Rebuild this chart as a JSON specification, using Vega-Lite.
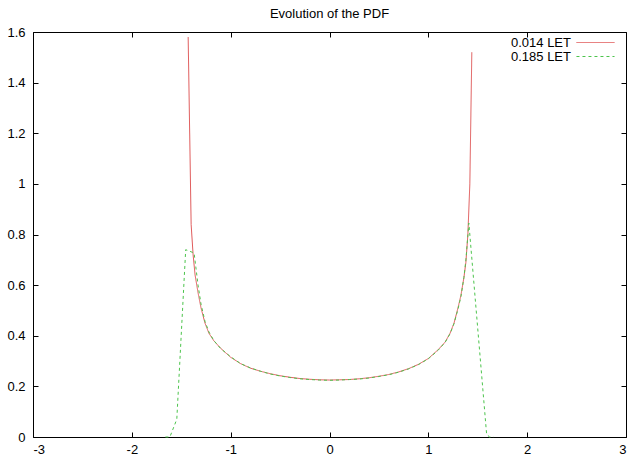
{
  "$schema": "https://vega.github.io/schema/vega-lite/v6.json",
  "width": 593,
  "height": 405,
  "autosize": {"type": "none"},
  "padding": {"left": 33, "top": 32, "right": 13, "bottom": 20},
  "background": "white",
  "title": {"text": "Evolution of the PDF", "font": "Liberation Sans", "fontSize": 13, "fontWeight": "normal", "color": "black", "offset": 5, "anchor": "middle"},
  "config": {
    "view": {"stroke": "black", "strokeWidth": 1},
    "axis": {"grid": false, "domain": false, "tickColor": "black", "tickWidth": 1, "tickSize": -5, "labelFont": "Liberation Sans", "labelFontSize": 13, "labelColor": "black", "title": null},
    "legend": {"labelFont": "Liberation Sans", "labelFontSize": 13, "labelColor": "black"}
  },
  "data": {"values": [
    {"series": "0.014 LET", "x": -1.43, "y": 1.58},
    {"series": "0.014 LET", "x": -1.40, "y": 0.84},
    {"series": "0.014 LET", "x": -1.38, "y": 0.72},
    {"series": "0.014 LET", "x": -1.36, "y": 0.64},
    {"series": "0.014 LET", "x": -1.33, "y": 0.57},
    {"series": "0.014 LET", "x": -1.30, "y": 0.51},
    {"series": "0.014 LET", "x": -1.26, "y": 0.45},
    {"series": "0.014 LET", "x": -1.22, "y": 0.41},
    {"series": "0.014 LET", "x": -1.17, "y": 0.38},
    {"series": "0.014 LET", "x": -1.10, "y": 0.35},
    {"series": "0.014 LET", "x": -1.00, "y": 0.315},
    {"series": "0.014 LET", "x": -0.90, "y": 0.29},
    {"series": "0.014 LET", "x": -0.80, "y": 0.272},
    {"series": "0.014 LET", "x": -0.70, "y": 0.26},
    {"series": "0.014 LET", "x": -0.60, "y": 0.25},
    {"series": "0.014 LET", "x": -0.50, "y": 0.242},
    {"series": "0.014 LET", "x": -0.40, "y": 0.236},
    {"series": "0.014 LET", "x": -0.30, "y": 0.231},
    {"series": "0.014 LET", "x": -0.20, "y": 0.228},
    {"series": "0.014 LET", "x": -0.10, "y": 0.226},
    {"series": "0.014 LET", "x": 0.00, "y": 0.225},
    {"series": "0.014 LET", "x": 0.10, "y": 0.226},
    {"series": "0.014 LET", "x": 0.20, "y": 0.227},
    {"series": "0.014 LET", "x": 0.30, "y": 0.230},
    {"series": "0.014 LET", "x": 0.40, "y": 0.234},
    {"series": "0.014 LET", "x": 0.50, "y": 0.240},
    {"series": "0.014 LET", "x": 0.60, "y": 0.247},
    {"series": "0.014 LET", "x": 0.70, "y": 0.257},
    {"series": "0.014 LET", "x": 0.80, "y": 0.270},
    {"series": "0.014 LET", "x": 0.90, "y": 0.287},
    {"series": "0.014 LET", "x": 1.00, "y": 0.31},
    {"series": "0.014 LET", "x": 1.10, "y": 0.345},
    {"series": "0.014 LET", "x": 1.17, "y": 0.375},
    {"series": "0.014 LET", "x": 1.22, "y": 0.41},
    {"series": "0.014 LET", "x": 1.26, "y": 0.45},
    {"series": "0.014 LET", "x": 1.30, "y": 0.51},
    {"series": "0.014 LET", "x": 1.33, "y": 0.56},
    {"series": "0.014 LET", "x": 1.36, "y": 0.63},
    {"series": "0.014 LET", "x": 1.38, "y": 0.69},
    {"series": "0.014 LET", "x": 1.40, "y": 0.80},
    {"series": "0.014 LET", "x": 1.42, "y": 1.0},
    {"series": "0.014 LET", "x": 1.44, "y": 1.52},
    {"series": "0.185 LET", "x": -1.66, "y": 0},
    {"series": "0.185 LET", "x": -1.615, "y": 0},
    {"series": "0.185 LET", "x": -1.545, "y": 0.07},
    {"series": "0.185 LET", "x": -1.455, "y": 0.74},
    {"series": "0.185 LET", "x": -1.37, "y": 0.727},
    {"series": "0.185 LET", "x": -1.33, "y": 0.60},
    {"series": "0.185 LET", "x": -1.30, "y": 0.525},
    {"series": "0.185 LET", "x": -1.26, "y": 0.457},
    {"series": "0.185 LET", "x": -1.22, "y": 0.415},
    {"series": "0.185 LET", "x": -1.17, "y": 0.381},
    {"series": "0.185 LET", "x": -1.10, "y": 0.349},
    {"series": "0.185 LET", "x": -1.00, "y": 0.317},
    {"series": "0.185 LET", "x": -0.90, "y": 0.29},
    {"series": "0.185 LET", "x": -0.80, "y": 0.273},
    {"series": "0.185 LET", "x": -0.70, "y": 0.26},
    {"series": "0.185 LET", "x": -0.60, "y": 0.249},
    {"series": "0.185 LET", "x": -0.50, "y": 0.241},
    {"series": "0.185 LET", "x": -0.40, "y": 0.235},
    {"series": "0.185 LET", "x": -0.30, "y": 0.23},
    {"series": "0.185 LET", "x": -0.20, "y": 0.227},
    {"series": "0.185 LET", "x": -0.10, "y": 0.225},
    {"series": "0.185 LET", "x": 0.00, "y": 0.224},
    {"series": "0.185 LET", "x": 0.10, "y": 0.225},
    {"series": "0.185 LET", "x": 0.20, "y": 0.227},
    {"series": "0.185 LET", "x": 0.30, "y": 0.229},
    {"series": "0.185 LET", "x": 0.40, "y": 0.233},
    {"series": "0.185 LET", "x": 0.50, "y": 0.239},
    {"series": "0.185 LET", "x": 0.60, "y": 0.246},
    {"series": "0.185 LET", "x": 0.70, "y": 0.256},
    {"series": "0.185 LET", "x": 0.80, "y": 0.269},
    {"series": "0.185 LET", "x": 0.90, "y": 0.286},
    {"series": "0.185 LET", "x": 1.00, "y": 0.309},
    {"series": "0.185 LET", "x": 1.10, "y": 0.343},
    {"series": "0.185 LET", "x": 1.17, "y": 0.374},
    {"series": "0.185 LET", "x": 1.22, "y": 0.408},
    {"series": "0.185 LET", "x": 1.26, "y": 0.448},
    {"series": "0.185 LET", "x": 1.30, "y": 0.505},
    {"series": "0.185 LET", "x": 1.33, "y": 0.555},
    {"series": "0.185 LET", "x": 1.36, "y": 0.63},
    {"series": "0.185 LET", "x": 1.38, "y": 0.70},
    {"series": "0.185 LET", "x": 1.41, "y": 0.845},
    {"series": "0.185 LET", "x": 1.59, "y": 0.01},
    {"series": "0.185 LET", "x": 1.62, "y": 0},
    {"series": "0.185 LET", "x": 1.66, "y": 0}
  ]},
  "layer": [
    {
      "mark": {"type": "line", "strokeWidth": 1, "interpolate": "linear"},
      "encoding": {
        "x": {"field": "x", "type": "quantitative", "scale": {"domain": [-3, 3], "nice": false, "zero": false},
              "axis": {"values": [-3, -2, -1, 0, 1, 2, 3], "labelExpr": "'' + datum.value", "labelPadding": 11}},
        "y": {"field": "y", "type": "quantitative", "scale": {"domain": [0, 1.6], "nice": false},
              "axis": {"values": [0, 0.2, 0.4, 0.6, 0.8, 1, 1.2, 1.4, 1.6], "labelExpr": "'' + datum.value", "labelPadding": 13}},
        "color": {"field": "series", "type": "nominal",
                  "scale": {"domain": ["0.014 LET", "0.185 LET"], "range": ["#e05a5a", "#4cc44c"]},
                  "legend": {"title": null, "orient": "none", "legendX": 556, "legendY": 4, "symbolType": "M-5,0H5", "symbolSize": 58, "symbolStrokeWidth": 1, "labelAlign": "right", "labelOffset": -31, "rowPadding": 0, "padding": 0}},
        "strokeDash": {"field": "series", "type": "nominal",
                  "scale": {"domain": ["0.014 LET", "0.185 LET"], "range": [[1, 0], [3, 3]]},
                  "legend": {"title": null, "orient": "none", "legendX": 556, "legendY": 4, "symbolType": "M-5,0H5", "symbolSize": 58, "symbolStrokeWidth": 1, "labelAlign": "right", "labelOffset": -31, "rowPadding": 0, "padding": 0}}
      }
    },
    {
      "mark": {"type": "line", "opacity": 0},
      "encoding": {
        "x": {"field": "x", "type": "quantitative", "scale": {"domain": [-3, 3], "nice": false, "zero": false},
              "axis": {"orient": "top", "values": [-3, -2, -1, 0, 1, 2, 3], "labels": false}},
        "y": {"field": "y", "type": "quantitative", "scale": {"domain": [0, 1.6], "nice": false},
              "axis": {"orient": "right", "values": [0, 0.2, 0.4, 0.6, 0.8, 1, 1.2, 1.4, 1.6], "labels": false}}
      }
    }
  ],
  "resolve": {"axis": {"x": "independent", "y": "independent"}}
}
